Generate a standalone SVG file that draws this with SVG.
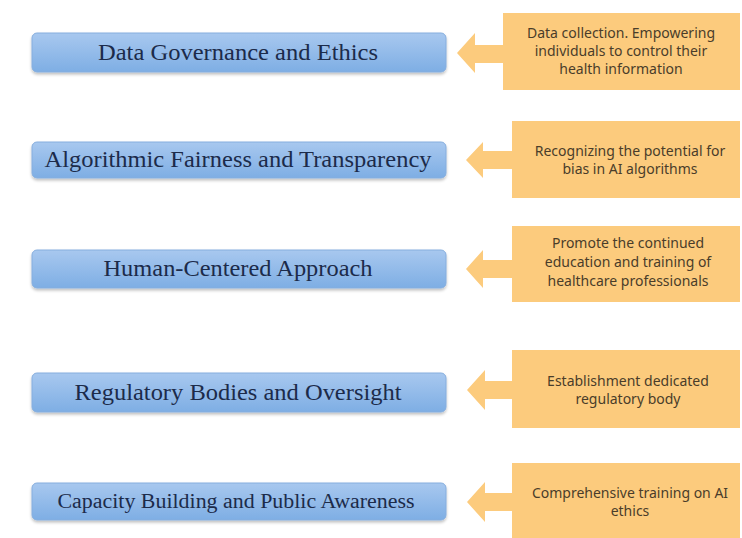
<svg xmlns="http://www.w3.org/2000/svg" width="742" height="538" viewBox="0 0 742 538">
  <defs>
    <linearGradient id="blueGrad" x1="0" y1="0" x2="0" y2="1">
      <stop offset="0" stop-color="#a8c8ef"/>
      <stop offset="1" stop-color="#7eaee4"/>
    </linearGradient>
    <filter id="shadow" x="-5%" y="-20%" width="110%" height="150%">
      <feGaussianBlur in="SourceAlpha" stdDeviation="1.5"/>
      <feOffset dx="0" dy="2" result="b"/>
      <feComponentTransfer><feFuncA type="linear" slope="0.25"/></feComponentTransfer>
      <feMerge><feMergeNode/><feMergeNode in="SourceGraphic"/></feMerge>
    </filter>
  </defs>
  <style>
    .blue { fill: url(#blueGrad); stroke: #86aede; stroke-width: 1; filter: url(#shadow); }
    .bt { font-family: "Liberation Serif", "Times New Roman", serif; font-size: 23px; fill: #1c2b4a; text-anchor: middle; }
    .orange { fill: #fccb7d; }
    .ot { font-family: "Noto Sans", "Open Sans", sans-serif; font-size: 14px; fill: #4a3d2a; text-anchor: middle; }
  </style>
  <rect width="742" height="538" fill="#ffffff"/>

  <g id="connectors">
    <path class="orange" d="M457,53 L475,33 L475,45 L504,45 L504,63 L475,63 L475,73 Z"/>
    <path class="orange" d="M466,160 L483,142 L483,151 L513,151 L513,169 L483,169 L483,178 Z"/>
    <path class="orange" d="M466,269 L483,250 L483,260 L513,260 L513,278 L483,278 L483,288 Z"/>
    <path class="orange" d="M467,390 L485,370 L485,381 L513,381 L513,399 L485,399 L485,410 Z"/>
    <path class="orange" d="M467,502 L485,482 L485,493 L513,493 L513,511 L485,511 L485,522 Z"/>
  </g>

  <g id="node-governance">
    <rect class="blue" x="32" y="33" width="414" height="39" rx="5"/>
    <text class="bt" x="238" y="60" textLength="280" lengthAdjust="spacingAndGlyphs">Data Governance and Ethics</text>
  </g>
  <g id="node-fairness">
    <rect class="blue" x="32" y="142" width="414" height="36" rx="5"/>
    <text class="bt" x="238" y="167" textLength="387" lengthAdjust="spacingAndGlyphs">Algorithmic Fairness and Transparency</text>
  </g>
  <g id="node-human">
    <rect class="blue" x="32" y="250" width="414" height="38" rx="5"/>
    <text class="bt" x="238" y="276" textLength="269" lengthAdjust="spacingAndGlyphs">Human-Centered Approach</text>
  </g>
  <g id="node-regulatory">
    <rect class="blue" x="32" y="373" width="414" height="39" rx="5"/>
    <text class="bt" x="238" y="400" textLength="327" lengthAdjust="spacingAndGlyphs">Regulatory Bodies and Oversight</text>
  </g>
  <g id="node-capacity">
    <rect class="blue" x="32" y="483" width="414" height="37" rx="5"/>
    <text class="bt" x="236" y="508" style="font-size:20px" textLength="357" lengthAdjust="spacingAndGlyphs">Capacity Building and Public Awareness</text>
  </g>

  <g id="note-data">
    <rect class="orange" x="503" y="13" width="237" height="77"/>
    <text class="ot" x="621" y="38">Data collection. Empowering</text>
    <text class="ot" x="621" y="56">individuals to control their</text>
    <text class="ot" x="621" y="74">health information</text>
  </g>
  <g id="note-bias">
    <rect class="orange" x="512" y="121" width="228" height="77"/>
    <text class="ot" x="630" y="156">Recognizing the potential for</text>
    <text class="ot" x="630" y="174">bias in AI algorithms</text>
  </g>
  <g id="note-education">
    <rect class="orange" x="512" y="226" width="228" height="76"/>
    <text class="ot" x="628" y="248">Promote the continued</text>
    <text class="ot" x="628" y="267">education and training of</text>
    <text class="ot" x="628" y="286">healthcare professionals</text>
  </g>
  <g id="note-regulatory">
    <rect class="orange" x="512" y="350" width="228" height="78"/>
    <text class="ot" x="628" y="386">Establishment dedicated</text>
    <text class="ot" x="628" y="404">regulatory body</text>
  </g>
  <g id="note-training">
    <rect class="orange" x="512" y="463" width="228" height="75"/>
    <text class="ot" x="630" y="498">Comprehensive training on AI</text>
    <text class="ot" x="630" y="516">ethics</text>
  </g>
</svg>
